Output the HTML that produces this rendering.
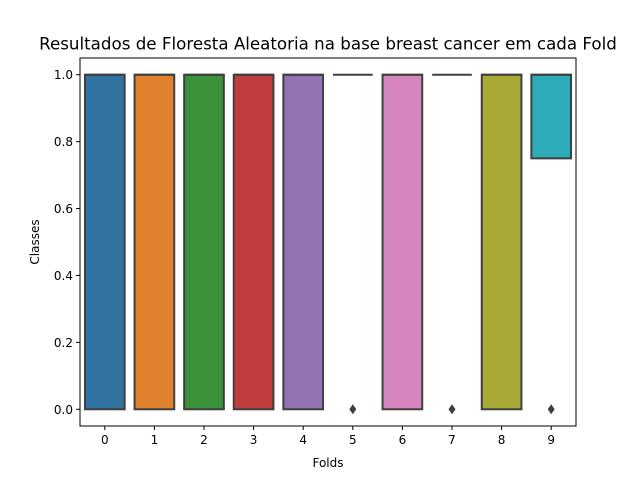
<!DOCTYPE html>
<html><head><meta charset="utf-8"><style>
body{margin:0;background:#fff;}
svg{display:block;font-family:"DejaVu Sans","Liberation Sans",sans-serif;}
</style></head><body>
<svg id="chart" width="640" height="480" viewBox="0 0 640 480">
<rect width="640" height="480" fill="#fff"/>
<text x="328" y="49.5" text-anchor="middle" font-size="16.7" fill="#000">Resultados de Floresta Aleatoria na base breast cancer em cada Fold</text>
<text x="328" y="467" text-anchor="middle" font-size="12" fill="#000">Folds</text>
<text transform="translate(39,242) rotate(-90)" text-anchor="middle" font-size="12" fill="#000">Classes</text>
<g id="marks"></g>
<g id="axes"></g>
</svg>
<script>
const categories = ['0','1','2','3','4','5','6','7','8','9'];
const q1Values = [0,0,0,0,0,1,0,1,0,0.75];
const medianValues = [1,1,1,1,1,1,1,1,1,1];
const q3Values = [1,1,1,1,1,1,1,1,1,1];
const outlierValues = [[],[],[],[],[],[0],[],[0],[],[0]];
const colors = ['#3274a1','#e1812c','#3a923a','#c03d3e','#9372b2','#845b53','#d684bd','#7f7f7f','#a9aa35','#2eabb8'];
const yTicks = [0,0.2,0.4,0.6,0.8,1.0];
const yTickLabels = ['0.0','0.2','0.4','0.6','0.8','1.0'];

const L=80,R=576,T=58,B=426, yMin=-0.05,yMax=1.05;
const NS='http://www.w3.org/2000/svg';
function y(v){return B-(v-yMin)/(yMax-yMin)*(B-T);}
function x(i){return L+(i+0.5)*(R-L)/categories.length;}
const bw=(R-L)/categories.length*0.8;
function mk(tag,attrs,parent){const e=document.createElementNS(NS,tag);for(const k in attrs)e.setAttribute(k,attrs[k]);parent.appendChild(e);return e;}
const marks=document.getElementById('marks'), axes=document.getElementById('axes');
const edge='#3f3f3f';
categories.forEach((c,i)=>{
  const cx=x(i);
  const top=y(q3Values[i]), bot=y(q1Values[i]);
  const r=mk('rect',{x:cx-bw/2,y:top,width:bw,height:Math.max(bot-top,0),fill:colors[i],stroke:edge,'stroke-width':2},marks);
  
  
  const m=mk('line',{x1:cx-bw/2,x2:cx+bw/2,y1:y(medianValues[i]),y2:y(medianValues[i]),stroke:edge,'stroke-width':2},marks);
  
  
  outlierValues[i].forEach(v=>{
    const oy=y(v);
    const d=mk('path',{d:`M${cx},${oy-5}L${cx+3.5},${oy}L${cx},${oy+5}L${cx-3.5},${oy}Z`,fill:edge},marks);
    
    
  });
  const t=mk('line',{x1:cx,x2:cx,y1:B,y2:B+4,stroke:'#000','stroke-width':1},axes);
  
  
  const tl=mk('text',{x:cx,y:B+18,'text-anchor':'middle','font-size':12,fill:'#000'},axes);
  tl.textContent=c;
  
  
});
yTicks.forEach((v,i)=>{
  const yy=y(v);
  const t=mk('line',{x1:L-4,x2:L,y1:yy,y2:yy,stroke:'#000','stroke-width':1},axes);
  
  
  const tl=mk('text',{x:L-7,y:yy+4.5,'text-anchor':'end','font-size':12,fill:'#000'},axes);
  tl.textContent=yTickLabels[i];
  
  
});
const frame=mk('rect',{x:L,y:T,width:R-L,height:B-T,fill:'none',stroke:'#000','stroke-width':1},axes);


</script>
</body></html>
